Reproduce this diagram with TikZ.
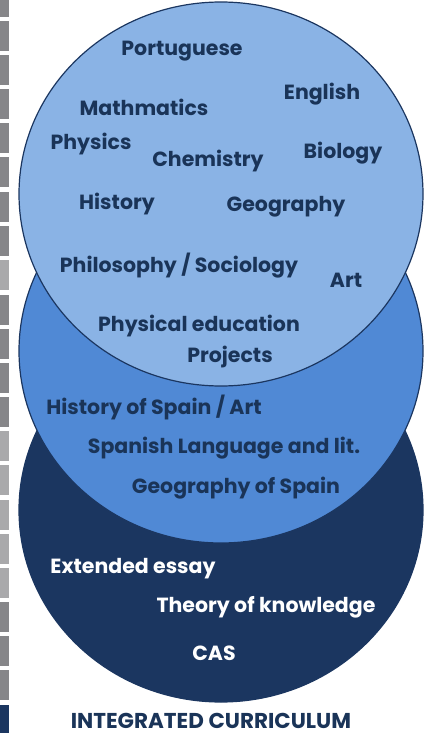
\documentclass[tikz,border=0pt]{standalone}
\usepackage{fontspec}
\setmainfont{Poppins}
\definecolor{ibnavy}{RGB}{27, 54, 96}
\definecolor{ibtext}{RGB}{26, 52, 88}
\definecolor{ibmid}{RGB}{80, 137, 213}
\definecolor{iblight}{RGB}{138, 179, 229}
\definecolor{stripdark}{RGB}{134, 134, 137}
\definecolor{striplight}{RGB}{169, 169, 171}
\usepackage{tikz}

\begin{document}
\begin{tikzpicture}[x=1pt, y=-1pt, every node/.style={font=\bfseries\fontsize{20.5}{20.5}\selectfont, color=ibtext, inner sep=0pt}]
        \useasboundingbox (0,0) rectangle (431,733);
        % Side strip
        \foreach \y/\c in {-13/stripdark,21/stripdark,55/stripdark,89/stripdark,123/stripdark,157/stripdark,192/stripdark,226/stripdark,260/striplight,295/stripdark,329/stripdark,363/stripdark,397/stripdark,431/striplight,465/striplight,500/striplight,534/striplight,568/striplight,602/stripdark,636/stripdark,670/stripdark,705/ibnavy} {
          \fill[\c] (0,\y) rectangle (9,\y+30);
        }
        % Three circles, bottom first
        \draw[line width=1.2pt, color=ibnavy, fill=ibnavy] (221,510) ellipse [x radius=202pt, y radius=192pt];
        \draw[line width=1.2pt, color=ibnavy, fill=ibmid] (221,351) ellipse [x radius=202pt, y radius=192pt];
        \draw[line width=1.2pt, color=ibnavy, fill=iblight] (221,194) ellipse [x radius=202pt, y radius=192pt];
        % Top circle subjects
        \node (port) at (182,51) {Portuguese};
        \node (engl) at (322,94) {English};
        \node (math) at (144,107) {Mathmatics};
        \node (phys) at (91,144) {Physics};
        \node (chem) at (208,161) {Chemistry};
        \node (biol) at (343,153) {Biology};
        \node (hist) at (117,204) {History};
        \node (geog) at (286,207) {Geography};
        \node (philo) at (179,266) {Philosophy / Sociology};
        \node (art) at (346,280) {Art};
        \node (pe) at (199,326) {Physical education};
        \node (proj) at (230,357) {Projects};
        % Middle circle subjects
        \node (hisp) at (154,407) {History of Spain / Art};
        \node (span) at (224,448) {Spanish Language and lit.};
        \node (geosp) at (236,488) {Geography of Spain};
        % Core
        \node[color=white] (ee) at (133,569) {Extended essay};
        \node[color=white] (tok) at (266,607) {Theory of knowledge};
        \node[color=white] (cas) at (214,653) {CAS};
        % Caption
        \node[anchor=base, font=\bfseries\fontsize{21.5}{21.5}\selectfont] (title) at (211,728) {INTEGRATED CURRICULUM};
      \end{tikzpicture}
\end{document}
